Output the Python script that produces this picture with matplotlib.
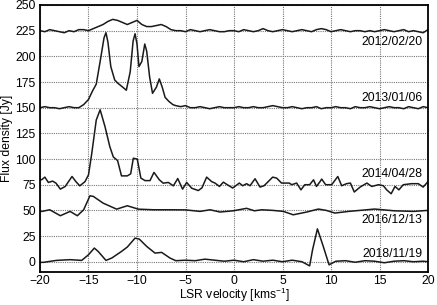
import matplotlib
matplotlib.use("Agg")
import matplotlib.pyplot as plt
import numpy as np

plt.rcParams['font.family'] = ['Liberation Sans', 'DejaVu Sans']

# 2012/02/20 (0.5 km/s grid)
v_2012 = np.arange(-20, 20.01, 0.5)
f_2012 = [225, 224, 226, 225, 224, 223, 225, 224, 226, 226, 225, 227, 229, 231, 234, 236, 235, 233, 231, 233,
          235, 231, 229, 229, 230, 231, 229, 226, 225, 225, 224, 226, 225, 224, 225, 226, 225, 224, 224, 225,
          225, 224, 226, 225, 224, 225, 227, 225, 224, 225, 226, 225, 224, 225, 226, 225, 224, 226, 227, 226,
          224, 225, 226, 225, 224, 225, 225, 224, 225, 224, 225, 226, 225, 224, 225, 226, 224, 225, 224, 223, 226]

# 2013/01/06
v_2013 = [-20, -19.5, -19, -18.5, -18, -17.5, -17, -16.5, -16, -15.5, -15, -14.6, -14.2, -13.8, -13.4, -13.2,
          -13.0, -12.7, -12.3, -12.0, -11.6, -11.1, -10.7, -10.4, -10.2, -10.0, -9.8, -9.5, -9.2, -9.0, -8.7,
          -8.4, -8.0, -7.7, -7.4, -7.1, -6.7, -6.3, -6.0, -5.5, -5, -4.5, -4, -3.5, -3, -2.5, -2, -1.5, -1,
          -0.5, 0, 0.5, 1, 1.5, 2, 2.5, 3, 3.5, 4, 4.5, 5, 5.5, 6, 6.5, 7, 7.5, 8, 8.5, 9, 9.5, 10, 10.5, 11,
          11.5, 12, 12.5, 13, 13.5, 14, 14.5, 15, 15.5, 16, 16.5, 17, 17.5, 18, 18.5, 19, 19.5, 20]
f_2013 = [150, 151, 150, 150, 149, 150, 151, 150, 150, 153, 158, 166, 173, 195, 218, 223,
          214, 190, 177, 174, 171, 167, 185, 215, 222, 212, 190, 195, 212, 205, 180,
          164, 170, 178, 170, 160, 156, 153, 152, 151, 152, 150, 150, 151, 150, 149, 150, 151, 150,
          150, 150, 151, 150, 150, 151, 150, 150, 151, 152, 151, 150, 150, 151, 150, 149, 150, 150, 151, 149,
          150, 150, 151, 150, 150, 149, 151, 150, 150, 151, 150, 149, 150, 151, 150, 150, 149, 151, 150, 149, 151, 150]

# 2014/04/28
v_2014 = [-20, -19.83, -19.5, -19.14, -18.7, -18.35, -17.9, -17.4, -16.7, -16.3, -15.9, -15.36, -15.0, -14.67,
          -14.2, -13.8, -13.3, -12.8, -12.44, -12.0, -11.6, -11.0, -10.65, -10.38, -9.97, -9.6, -9.17, -8.66,
          -8.25, -7.7, -7.3, -6.77, -6.25, -5.8, -5.3, -4.88, -4.36, -3.68, -3.3, -2.82, -2.3, -1.96, -1.5,
          -1.1, -0.69, -0.14, 0.55, 0.9, 1.3, 1.65, 2.17, 2.68, 3.1, 3.99, 4.4, 4.9, 5.7, 5.95, 6.46, 6.9,
          7.3, 7.8, 8.2, 8.5, 8.87, 9.04, 9.45, 10.07, 10.7, 11.1, 11.6, 12.0, 12.4, 13.0, 13.7, 14.2, 14.9,
          15.4, 15.74, 16.2, 16.6, 17.0, 17.45, 18.3, 19.0, 19.5, 20.0]
f_2014 = [80, 79.8, 82.4, 77.2, 78.5, 76.5, 70.7, 73.3, 83, 78, 73.9, 78, 84.6, 105,
          138, 148, 131.6, 112, 102, 98.5, 83.6, 83.6, 85.6, 100.8, 99.9, 81.4, 79, 79,
          87, 79.8, 76.5, 77.2, 73.9, 81, 70.7, 77.2, 71.6, 69.3, 72, 82.4, 78, 76.6, 73.3,
          77.5, 75, 71.8, 76.6, 74, 76, 74, 80.8, 72.7, 74, 82.4, 81.4, 76.6, 76.6, 75, 76.6, 70,
          75, 75, 79.8, 73.3, 78, 80.5, 75, 75, 83, 74, 76, 76.6, 67.9, 72.7, 76.6, 73.3, 75,
          74, 70, 66.2, 73.3, 70, 75, 76, 76, 72.7, 78]

# 2016/12/13
v_2016 = [-20, -19.8, -19, -17.9, -16.9, -16.15, -15.5, -14.85, -14.5, -13.5, -12.1, -11.0, -9.86, -8.3,
          -6.6, -5, -3.5, -2.47, -1.44, -0.07, 1.3, 2.1, 2.87, 4, 5.1, 6.1, 7.5, 8.7, 9.5, 10.4, 11.8, 13,
          14.5, 16.5, 18.5, 20]
f_2016 = [49, 49, 50.6, 44.8, 49, 44.8, 50.6, 64.2, 63.6, 57.1, 51.2, 54.5, 51.2, 50.6,
          50.6, 50.5, 49, 50.6, 48.4, 49.6, 52, 49.6, 50.6, 50, 49, 45.7, 48.4, 51.3, 50, 47.4, 49, 50,
          51.3, 49.6, 49, 50]

# 2018/11/19
v_2018 = [-20, -19.66, -18.3, -16.9, -15.7, -15.0, -14.4, -14.0, -13.2, -12.6, -11.6, -11.0, -10.2, -9.76,
          -9.0, -8.14, -7.46, -6.6, -6.0, -5, -4, -3, -2, -1, 0, 1, 2, 3, 4, 5, 6, 7, 7.8, 8.1, 8.6, 9.2,
          9.8, 10.5, 11.5, 12.5, 13.5, 14.5, 15.5, 16.5, 17.5, 18.5, 19.5, 20]
f_2018 = [-0.6, -0.6, 1.3, 2, 1.3, 6.8, 13.3, 10, 1.3, 3.6, 10, 14.3, 23, 22,
          14.9, 8.4, 9.1, 3.6, 1, 1.5, 1, 2.5, 1.5, 0.5, 1.5, 0, 2, 0.5, 1.5, 0, 1.5, 0, -4, 11.7, 32, 15,
          -3, 0.5, 1, -0.5, 1, 0.5, -1, 0.5, 1, 0, 0.5, 0]

labels = ["2012/02/20", "2013/01/06", "2014/04/28", "2016/12/13", "2018/11/19"]
label_y = [214, 159.5, 85.6, 40.2, 7.8]

x_ticks = [-20, -15, -10, -5, 0, 5, 10, 15, 20]
y_ticks = [0, 25, 50, 75, 100, 125, 150, 175, 200, 225, 250]

FS = 8.7

fig = plt.figure(figsize=(4.37, 3.05), dpi=100)
ax = fig.add_axes([40/437, 33/305, 388/437, 267/305])

for v, f in [(v_2012, f_2012), (v_2013, f_2013), (v_2014, f_2014), (v_2016, f_2016), (v_2018, f_2018)]:
    ax.plot(v, f, color='#1a1a1a', lw=1.1)

for lab, ly in zip(labels, label_y):
    ax.text(0.985, ly, lab, transform=ax.get_yaxis_transform(), ha='right', va='center', fontsize=FS)

ax.set_xlim(-20, 20)
ax.set_ylim(-10, 250)
ax.set_xticks(x_ticks)
ax.set_yticks(y_ticks)
ax.set_xticklabels(["\u2212" + str(-t) if t < 0 else str(t) for t in x_ticks])
ax.grid(True, color='#777777', linestyle=(0, (1, 1)), lw=0.8)
ax.tick_params(direction='in', length=0, labelsize=FS, pad=3)
ax.tick_params(axis='x', pad=2)
for s in ax.spines.values():
    s.set_linewidth(1.3)
ax.set_xlabel("LSR velocity [kms$^{\\mathregular{-1}}$]", fontsize=FS)
ax.xaxis.set_label_coords(0.5, -0.085)
ax.xaxis.label.set_va('center')
ax.set_ylabel("Flux density [Jy]", fontsize=FS, labelpad=2)

fig.savefig("out.png", dpi=100)
